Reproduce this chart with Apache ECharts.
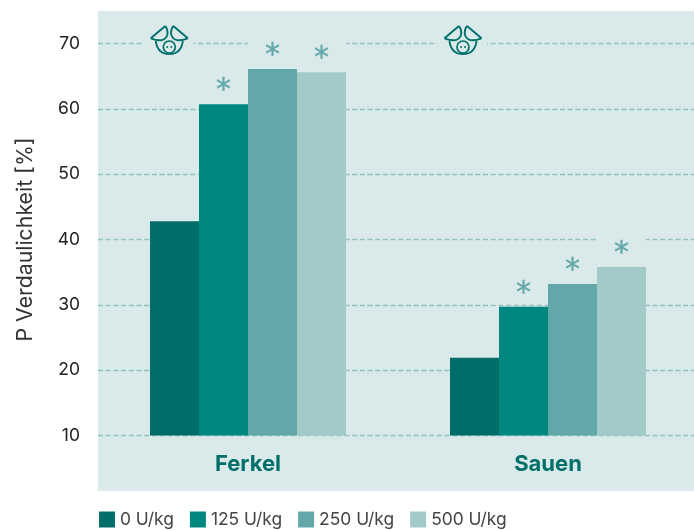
<!DOCTYPE html>
<html>
<head>
<meta charset="utf-8">
<style>html,body{margin:0;padding:0;background:#fff}#bar{width:694px;height:530px}</style>
<script src="https://cdn.jsdelivr.net/npm/echarts@6/dist/echarts.min.js"></script>
</head>
<body>
<div id="bar"></div>
<script>
var categories = ["Ferkel", "Sauen"];
var seriesNames = ["0 U/kg", "125 U/kg", "250 U/kg", "500 U/kg"];
var dose0 = [42.8, 21.9];
var dose125 = [60.7, 29.7];
var dose250 = [66.1, 33.2];
var dose500 = [65.6, 35.8];
var signif0 = [false, false];
var signif125 = [true, true];
var signif250 = [true, true];
var signif500 = [true, true];
var yTicks = { min: 10, max: 70, step: 10 };

var colors = ["#006e68", "#008780", "#62a8a8", "#a2cac9"];
var panel = "#dae9e9";
var fontName = "Inter";

function curve(x1, y1, cx, cy, x2, y2) {
    return {
        type: "bezierCurve", z: 51,
        shape: { x1: x1, y1: y1, x2: x2, y2: y2, cpx1: cx, cpy1: cy },
        style: { stroke: "#00706a", fill: null, lineWidth: 1.9 }
    };
}

function straight(x1, y1, x2, y2) {
    return {
        type: "line", z: 51,
        shape: { x1: x1, y1: y1, x2: x2, y2: y2 },
        style: { stroke: "#00706a", lineWidth: 1.9 }
    };
}

function pig(cx) {
    var ink = { stroke: "#00706a", fill: null, lineWidth: 1.7 };
    return {
        type: "group", x: cx, y: 40, z: 50,
        children: [
            // kaschiert die Hilfslinie hinter dem Symbol
            { type: "rect", z: 50, shape: { x: -26, y: -1, width: 50, height: 9 }, style: { fill: panel } },
            straight(-4, -14, -18.5, -1.7),
            curve(-18.5, -1.7, -5, 3.5, -2, -5),
            curve(-2, -5, -1, -10, -4, -14),
            straight(4, -14, 18.5, -1.7),
            curve(18.5, -1.7, 5, 3.5, 2, -5),
            curve(2, -5, 1, -10, 4, -14),
            curve(-13.5, 1, -12, 14, 0, 14),
            curve(0, 14, 12, 14, 13.5, 1),
            { type: "circle", z: 51, shape: { cx: 0, cy: 7, r: 6 }, style: ink },
            { type: "circle", z: 51, shape: { cx: -2, cy: 7, r: 1 }, style: { fill: "#00706a" } },
            { type: "circle", z: 51, shape: { cx: 2, cy: 7, r: 1 }, style: { fill: "#00706a" } }
        ]
    };
}

function barSeries(name, values, flags, color) {
    return {
        name: name,
        type: "bar",
        barWidth: 49,
        barGap: 0,
        itemStyle: { color: color },
        z: 3,
        data: values.map(function(v, i) {
            return {
                value: v,
                label: {
                    show: flags[i],
                    formatter: "*",
                    position: "top",
                    distance: 8,
                    width: 49,
                    height: 24,
                    lineHeight: 10,
                    align: "center",
                    backgroundColor: panel,
                    fontFamily: "DejaVu Sans",
                    fontSize: 30,
                    color: "#62a8a8",
                    textBorderColor: "#62a8a8",
                    textBorderWidth: 0.3
                }
            };
        })
    };
}

var myChart = echarts.init(document.getElementById("bar"));
var option = {
    animation: false,
    textStyle: { fontFamily: fontName },
    grid: { left: 98, width: 600, top: 43.5, height: 392, outerBoundsMode: "none" },
    legend: {
        left: 94, top: 506,
        itemWidth: 16, itemHeight: 16, itemGap: 16,
        icon: "rect",
        selectedMode: false,
        textStyle: { fontFamily: fontName, fontSize: 17.4, color: "#444", padding: [2, 0, 0, 0] },
        data: seriesNames
    },
    xAxis: {
        type: "category",
        data: categories,
        axisLine: { show: false },
        axisTick: { show: false },
        axisLabel: { margin: 18, fontFamily: fontName, fontSize: 22, fontWeight: "bold", color: "#00706a" }
    },
    yAxis: {
        type: "value",
        min: yTicks.min,
        max: yTicks.max,
        interval: yTicks.step,
        name: "P Verdaulichkeit [%]",
        nameLocation: "middle",
        nameGap: 62,
        nameTextStyle: { fontFamily: fontName, fontSize: 21.3, color: "#333" },
        axisLine: { show: false },
        axisTick: { show: false },
        axisLabel: { margin: 18, fontFamily: fontName, fontSize: 17.5, color: "#222" },
        splitLine: { lineStyle: { color: "#93c2c0", width: 1.4, type: [5, 2.7] } }
    },
    graphic: {
        elements: [
            { type: "rect", z: -10, shape: { x: 98, y: 11, width: 596, height: 480 }, style: { fill: panel } },
            pig(169.3),
            pig(463)
        ]
    },
    series: [
        barSeries(seriesNames[0], dose0, signif0, colors[0]),
        barSeries(seriesNames[1], dose125, signif125, colors[1]),
        barSeries(seriesNames[2], dose250, signif250, colors[2]),
        barSeries(seriesNames[3], dose500, signif500, colors[3])
    ]
};
myChart.setOption(option);
</script>
</body>
</html>
